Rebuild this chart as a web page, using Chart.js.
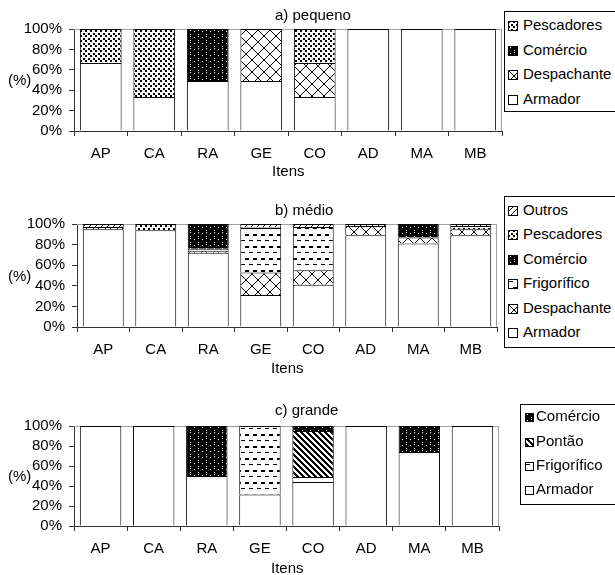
<!DOCTYPE html>
<html>
<head>
<meta charset="utf-8">
<script src="https://cdn.jsdelivr.net/npm/chart.js@4/dist/chart.umd.min.js"></script>
<style>
  body { margin:0; background:#fff; width:615px; height:575px; overflow:hidden; position:relative;
         font-family:'Liberation Sans', Arial, sans-serif; font-size:15px; color:#000; }
  canvas.chart { position:absolute; left:0; }
  .lbl { position:absolute; white-space:nowrap; line-height:18px; }
  .legend { position:absolute; border:1px solid #000; background:#fff; box-sizing:border-box; }
  .item { position:absolute; left:0; height:18px; white-space:nowrap; line-height:18px; }
  .item canvas { position:absolute; }
  .item span { position:absolute; top:0; }
</style>
</head>
<body>
<canvas id="chartA" class="chart" width="615" height="180" style="top:0px"></canvas>
<canvas id="chartB" class="chart" width="615" height="190" style="top:190px"></canvas>
<canvas id="chartC" class="chart" width="615" height="185" style="top:390px"></canvas>

<div class="lbl" style="left:275px;top:6px">a) pequeno</div>
<div class="lbl" style="left:275px;top:201px">b) médio</div>
<div class="lbl" style="left:275px;top:401px">c) grande</div>

<div class="lbl" style="left:8px;top:71px">(%)</div>
<div class="lbl" style="left:8px;top:267px">(%)</div>
<div class="lbl" style="left:8px;top:467px">(%)</div>

<div class="lbl" style="left:272px;top:162px">Itens</div>
<div class="lbl" style="left:271px;top:359px">Itens</div>
<div class="lbl" style="left:271px;top:559px">Itens</div>

<div id="legendA" class="legend" style="left:504px;top:11px;width:120px;height:101px"></div>
<div id="legendB" class="legend" style="left:504px;top:196px;width:120px;height:152px"></div>
<div id="legendC" class="legend" style="left:520px;top:404px;width:110px;height:101px"></div>

<script>
// Items on the horizontal axis
const categories = ['AP', 'CA', 'RA', 'GE', 'CO', 'AD', 'MA', 'MB'];
const yTickLabels = ['0%', '20%', '40%', '60%', '80%', '100%'];

// a) pequeno (%)
const pequenoArmador     = [66.7, 33.3, 49, 49, 33.3, 100, 100, 100];
const pequenoDespachante = [0, 0, 0, 51, 33.3, 0, 0, 0];
const pequenoComercio    = [0, 0, 51, 0, 0, 0, 0, 0];
const pequenoPescadores  = [33.3, 66.7, 0, 0, 33.4, 0, 0, 0];

// b) médio (%)
const medioArmador     = [95, 94, 72, 31, 41, 89, 81, 89];
const medioDespachante = [2, 0, 2, 22, 14, 9, 6, 6];
const medioFrigorifico = [0, 0, 2, 43, 42, 0, 0, 0];
const medioComercio    = [0, 0, 24, 0, 0, 0, 13, 0];
const medioPescadores  = [0, 6, 0, 1, 0, 0, 0, 3];
const medioOutros      = [3, 0, 0, 3, 3, 2, 0, 2];

// c) grande (%)
const grandeArmador     = [100, 100, 50, 31.6, 44, 100, 74, 100];
const grandeFrigorifico = [0, 0, 0, 68.4, 5, 0, 0, 0];
const grandePontao      = [0, 0, 0, 0, 46, 0, 0, 0];
const grandeComercio    = [0, 0, 50, 0, 5, 0, 26, 0];

// ---- monochrome fill patterns ----
function tile(w, h, bg, fg, pixels) {
  const c = document.createElement('canvas');
  c.width = w; c.height = h;
  const x = c.getContext('2d');
  x.fillStyle = bg; x.fillRect(0, 0, w, h);
  x.fillStyle = fg;
  pixels(x);
  return c;
}
const tiles = {
  Armador: tile(4, 4, '#fff', '#000', () => {}),
  Pescadores: tile(5, 5, '#fff', '#000', x => { x.fillRect(0, 0, 2, 2); x.fillRect(3, 3, 2, 2); }),
  Comercio: tile(8, 6, '#000', '#fff', x => { x.fillRect(2, 1, 1, 1); x.fillRect(6, 4, 1, 1); x.fillRect(6, 0, 1, 1); }),
  Despachante: tile(12, 12, '#fff', '#000', x => {
    for (let i = 0; i < 12; i++) { x.fillRect(i, i, 1, 1); x.fillRect(11 - i, i, 1, 1); }
  }),
  Frigorifico: tile(16, 12, '#fff', '#000', x => {
    x.fillRect(1, 2, 4, 1); x.fillRect(9, 2, 4, 1);
    x.fillRect(5, 8, 4, 2); x.fillRect(13, 8, 3, 2); x.fillRect(0, 8, 1, 2);
  }),
  Pontao: tile(6, 6, '#fff', '#000', x => {
    for (let y = 0; y < 6; y++) for (let k = 0; k < 3; k++) x.fillRect((y + k) % 6, y, 1, 1);
  }),
  Outros: tile(6, 6, '#fff', '#000', x => {
    for (let y = 0; y < 6; y++) x.fillRect((5 - y) % 6, y, 1, 1);
  })
};
const scratch = document.createElement('canvas').getContext('2d');
const fills = {};
for (const k in tiles) fills[k] = scratch.createPattern(tiles[k], 'repeat');

// ---- chart construction ----
Chart.defaults.font.family = "'Liberation Sans', Arial, sans-serif";
Chart.defaults.font.size = 15;
Chart.defaults.color = '#000';

const plotFrame = {
  id: 'plotFrame',
  beforeDatasetsDraw(chart) {
    const { ctx, chartArea: a } = chart;
    ctx.save();
    ctx.strokeStyle = '#a0a0a0';
    ctx.lineWidth = 1;
    ctx.beginPath();
    ctx.moveTo(a.left, a.top + 0.5);
    ctx.lineTo(a.right - 0.5, a.top + 0.5);
    ctx.lineTo(a.right - 0.5, a.bottom);
    ctx.stroke();
    ctx.restore();
  }
};

function series(label, data, key) {
  return {
    label, data,
    backgroundColor: fills[key],
    borderColor: '#000',
    borderWidth: { top: 1, left: 1, right: 1, bottom: 0 },
    borderSkipped: false,
    barPercentage: 0.78,
    categoryPercentage: 1
  };
}

function buildChart(id, g, datasets) {
  return new Chart(document.getElementById(id), {
    type: 'bar',
    data: { labels: categories, datasets },
    plugins: [plotFrame],
    options: {
      responsive: false,
      animation: false,
      devicePixelRatio: 1,
      layout: { padding: { top: g.plotTop - g.T, right: 615 - g.right, left: 0, bottom: 0 } },
      plugins: { legend: { display: false }, title: { display: false }, tooltip: { enabled: false } },
      scales: {
        x: {
          stacked: true,
          grid: { display: true, drawOnChartArea: false, drawTicks: true, tickLength: 5, offset: true, color: '#333' },
          border: { display: true, color: '#333', width: 1 },
          ticks: { padding: 9, maxRotation: 0, autoSkip: false, color: '#000' },
          afterFit(s) { s.height = g.H - (g.plotBottom - g.T); }
        },
        y: {
          stacked: true, min: 0, max: 100,
          ticks: { stepSize: 20, padding: 7, autoSkip: false, color: '#000', callback: (v, i) => yTickLabels[i] },
          grid: { drawOnChartArea: false, tickLength: 5, color: '#333' },
          border: { display: true, color: '#333', width: 1 },
          afterFit(s) { s.width = g.left; }
        }
      }
    }
  });
}

buildChart('chartA', { T: 0, H: 180, plotTop: 29, plotBottom: 131, left: 74, right: 502 }, [
  series('Armador', pequenoArmador, 'Armador'),
  series('Despachante', pequenoDespachante, 'Despachante'),
  series('Comércio', pequenoComercio, 'Comercio'),
  series('Pescadores', pequenoPescadores, 'Pescadores')
]);

buildChart('chartB', { T: 190, H: 190, plotTop: 224, plotBottom: 327, left: 77, right: 497 }, [
  series('Armador', medioArmador, 'Armador'),
  series('Despachante', medioDespachante, 'Despachante'),
  series('Frigorífico', medioFrigorifico, 'Frigorifico'),
  series('Comércio', medioComercio, 'Comercio'),
  series('Pescadores', medioPescadores, 'Pescadores'),
  series('Outros', medioOutros, 'Outros')
]);

buildChart('chartC', { T: 390, H: 185, plotTop: 426, plotBottom: 526, left: 74, right: 499 }, [
  series('Armador', grandeArmador, 'Armador'),
  series('Frigorífico', grandeFrigorifico, 'Frigorifico'),
  series('Pontão', grandePontao, 'Pontao'),
  series('Comércio', grandeComercio, 'Comercio')
]);

// ---- legends (top entry first) ----
function legend(id, entries, centers, swX, sw, txX) {
  const box = document.getElementById(id);
  entries.forEach(([label, key], i) => {
    const it = document.createElement('div');
    it.className = 'item';
    it.style.top = (centers[i] - 9) + 'px';
    const c = document.createElement('canvas');
    c.width = sw; c.height = sw;
    c.style.left = swX + 'px';
    c.style.top = (9 - sw / 2 + 1) + 'px';
    const x = c.getContext('2d');
    x.fillStyle = x.createPattern(tiles[key], 'repeat');
    x.fillRect(0, 0, sw, sw);
    x.strokeStyle = '#000'; x.lineWidth = 1;
    x.strokeRect(0.5, 0.5, sw - 1, sw - 1);
    const s = document.createElement('span');
    s.textContent = label;
    s.style.left = txX + 'px';
    it.appendChild(c); it.appendChild(s);
    box.appendChild(it);
  });
}

legend('legendA', [['Pescadores', 'Pescadores'], ['Comércio', 'Comercio'], ['Despachante', 'Despachante'], ['Armador', 'Armador']],
  [13, 38, 62, 87], 3, 10, 18);
legend('legendB', [['Outros', 'Outros'], ['Pescadores', 'Pescadores'], ['Comércio', 'Comercio'], ['Frigorífico', 'Frigorifico'], ['Despachante', 'Despachante'], ['Armador', 'Armador']],
  [13, 37, 62, 86, 111, 135], 3, 10, 18);
legend('legendC', [['Comércio', 'Comercio'], ['Pontão', 'Pontao'], ['Frigorífico', 'Frigorifico'], ['Armador', 'Armador']],
  [11, 36, 60, 84], 4, 9, 15);
</script>
</body>
</html>
